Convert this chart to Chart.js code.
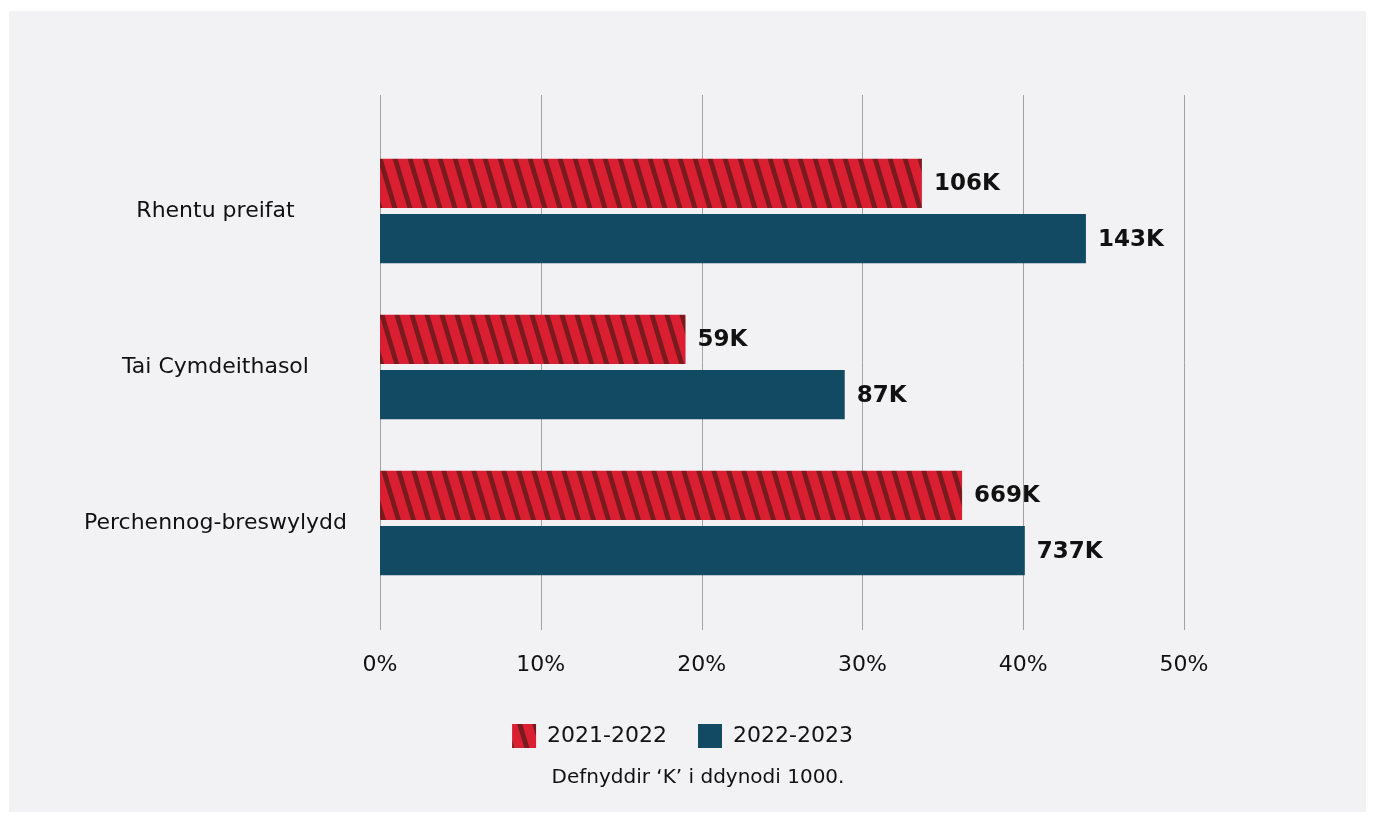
<!DOCTYPE html>
<html lang="cy">
<head>
    <meta charset="UTF-8">
    <title>Deiliadaeth</title>
    <script src="https://cdn.jsdelivr.net/npm/chart.js"></script>
    <style>
        body { margin: 0; background: #fff; }
        #wrap { width: 1374px; height: 817px; }
    </style>
</head>
<body>
    <div id="wrap"><canvas id="tenureChart"></canvas></div>
    <script>
        // Data
        const categories = ['Rhentu preifat', 'Tai Cymdeithasol', 'Perchennog-breswylydd'];
        const seriesNames = ['2021-2022', '2022-2023'];
        const values2122 = [33.7, 19.0, 36.2];
        const values2223 = [43.9, 28.9, 40.1];
        const counts2122 = ['106K', '59K', '669K'];
        const counts2223 = ['143K', '87K', '737K'];
        const footnote = 'Defnyddir \u2018K\u2019 i ddynodi 1000.';

        Chart.defaults.font.family = 'DejaVu Sans';
        Chart.defaults.color = '#111';

        // hatched red fill
        function makeHatch() {
            const c = document.createElement('canvas');
            c.width = 15; c.height = 50;
            const g = c.getContext('2d');
            g.fillStyle = '#da1f33';
            g.fillRect(0, 0, 15, 50);
            g.fillStyle = '#791a1e';
            for (let x = -15; x <= 15; x += 15) {
                g.beginPath();
                g.moveTo(x, 0);
                g.lineTo(x + 5, 0);
                g.lineTo(x + 20, 50);
                g.lineTo(x + 15, 50);
                g.closePath();
                g.fill();
            }
            return g.createPattern(c, 'repeat');
        }
        const hatch = makeHatch();

        const panelBg = {
            id: 'panelBg',
            beforeDraw(chart) {
                const ctx = chart.ctx;
                ctx.save();
                ctx.fillStyle = '#ffffff';
                ctx.fillRect(0, 0, chart.width, chart.height);
                ctx.fillStyle = '#f2f2f4';
                ctx.fillRect(9, 11, 1357, 801);
                ctx.restore();
            }
        };

        // vertical grid lines running past the bars
        const tallGrid = {
            id: 'tallGrid',
            beforeDatasetsDraw(chart) {
                const ctx = chart.ctx;
                const x = chart.scales.x;
                ctx.save();
                ctx.strokeStyle = '#a3a3a3';
                ctx.lineWidth = 1;
                x.ticks.forEach(t => {
                    const px = Math.round(x.getPixelForValue(t.value)) + 0.5;
                    ctx.beginPath();
                    ctx.moveTo(px, 95);
                    ctx.lineTo(px, 630);
                    ctx.stroke();
                });
                ctx.restore();
            }
        };

        const countLabels = {
            id: 'countLabels',
            afterDatasetsDraw(chart) {
                const ctx = chart.ctx;
                const texts = [counts2122, counts2223];
                ctx.save();
                ctx.font = 'bold 23px "DejaVu Sans"';
                ctx.fillStyle = '#111';
                ctx.textBaseline = 'middle';
                ctx.textAlign = 'left';
                chart.data.datasets.forEach((ds, i) => {
                    chart.getDatasetMeta(i).data.forEach((bar, j) => {
                        ctx.fillText(texts[i][j], bar.x + 12, bar.y + 1);
                    });
                });
                ctx.restore();
            }
        };

        const footnoteText = {
            id: 'footnoteText',
            afterDraw(chart) {
                const ctx = chart.ctx;
                ctx.save();
                ctx.font = '20px "DejaVu Sans"';
                ctx.fillStyle = '#111';
                ctx.textAlign = 'center';
                ctx.textBaseline = 'middle';
                ctx.fillText(footnote, 698, 778);
                ctx.restore();
            }
        };

        new Chart(document.getElementById('tenureChart'), {
            type: 'bar',
            data: {
                labels: categories,
                datasets: [
                    { label: seriesNames[0], data: values2122, backgroundColor: hatch },
                    { label: seriesNames[1], data: values2223, backgroundColor: '#124963' }
                ]
            },
            options: {
                indexAxis: 'y',
                responsive: true,
                maintainAspectRatio: false,
                animation: false,
                categoryPercentage: 0.71,
                barPercentage: 0.89,
                layout: { padding: { top: 133, left: 0, right: 9, bottom: 59 } },
                scales: {
                    x: {
                        min: 0,
                        max: 50,
                        ticks: { stepSize: 10, padding: 51, font: { size: 22 }, color: '#111', callback: v => v + '%' },
                        grid: { display: false, drawTicks: false },
                        border: { display: false },
                        afterFit(s) { s.height = 92; }
                    },
                    y: {
                        ticks: { crossAlign: 'center', padding: 33, font: { size: 22 }, color: '#111' },
                        grid: { display: false, drawTicks: false },
                        border: { display: false },
                        afterFit(s) { s.width = 380; }
                    },
                    yRight: {
                        type: 'category',
                        position: 'right',
                        ticks: { display: false },
                        grid: { display: false, drawTicks: false },
                        border: { display: false },
                        afterFit(s) { s.width = 181; }
                    }
                },
                plugins: {
                    legend: {
                        position: 'bottom',
                        labels: { boxWidth: 24, boxHeight: 24, padding: 31, font: { size: 22 }, color: '#111' }
                    },
                    tooltip: { enabled: false }
                }
            },
            plugins: [panelBg, tallGrid, countLabels, footnoteText]
        });
    </script>
</body>
</html>
